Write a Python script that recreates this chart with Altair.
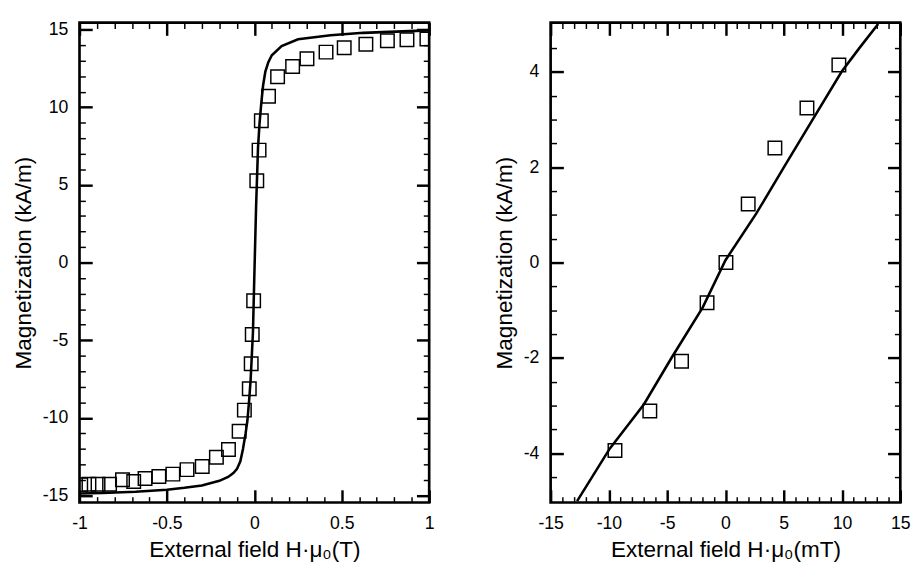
import altair as alt
import pandas as pd

# ---------------- data ----------------
left_pts_x = [-0.993, -0.946, -0.894, -0.828, -0.754, -0.690, -0.625, -0.546, -0.466, -0.385,
              -0.298, -0.217, -0.148, -0.087, -0.057, -0.029, -0.018, -0.012, -0.004, 0.014,
              0.027, 0.040, 0.081, 0.133, 0.219, 0.301, 0.410, 0.514, 0.638, 0.761, 0.873, 0.987]
left_pts_y = [-14.30, -14.27, -14.27, -14.27, -13.98, -14.10, -13.90, -13.78, -13.62, -13.33,
              -13.13, -12.54, -12.03, -10.86, -9.50, -8.12, -6.51, -4.63, -2.46, 5.27,
              7.24, 9.13, 10.71, 11.97, 12.62, 13.12, 13.55, 13.83, 14.06, 14.28, 14.34, 14.40]

left_fit_x = [-1.0, -0.87, -0.68, -0.5, -0.4, -0.3, -0.2, -0.15, -0.12, -0.1, -0.08, -0.065,
              -0.05, -0.04, -0.03, -0.021, -0.008, 0.001, 0.01, 0.021, 0.03, 0.04, 0.05, 0.063,
              0.08, 0.1, 0.156, 0.25, 0.436, 0.623, 0.81, 1.0]
left_fit_y = [-14.87, -14.83, -14.75, -14.62, -14.5, -14.35, -14.05, -13.8, -13.55, -13.3, -12.8, -12.0,
              -11.0, -10.2, -8.9, -7.5, -4.5, -0.4, 3.6, 7.4, 9.0, 10.3, 11.4, 12.3,
              12.9, 13.35, 13.94, 14.38, 14.64, 14.79, 14.87, 14.95]

right_pts_x = [-9.48, -6.49, -3.77, -1.58, 0.04, 1.95, 4.24, 6.99, 9.73]
right_pts_y = [-3.94, -3.11, -2.07, -0.84, 0.0, 1.23, 2.40, 3.24, 4.14]

right_fit_x = [-12.73, -9.93, -6.99, -4.61, -1.95, 0.0, 2.65, 5.07, 7.49, 9.96, 11.5, 13.1]
right_fit_y = [-5.0, -3.90, -2.97, -1.99, -0.94, 0.05, 1.03, 2.02, 3.0, 4.0, 4.5, 5.0]

# axis ticks
left_x_major = [-1, -0.5, 0, 0.5, 1]
left_x_minor = [-0.9, -0.8, -0.7, -0.6, -0.4, -0.3, -0.2, -0.1, 0.1, 0.2, 0.3, 0.4, 0.6, 0.7, 0.8, 0.9]
left_y_major = [-15, -10, -5, 0, 5, 10, 15]
left_y_minor = [-14, -13, -12, -11, -9, -8, -7, -6, -4, -3, -2, -1, 1, 2, 3, 4, 6, 7, 8, 9, 11, 12, 13, 14]

right_x_major = [-15, -10, -5, 0, 5, 10, 15]
right_x_minor = [-14, -13, -12, -11, -9, -8, -7, -6, -4, -3, -2, -1, 1, 2, 3, 4, 6, 7, 8, 9, 11, 12, 13, 14]
right_y_major = [-4, -2, 0, 2, 4]
right_y_minor = [-4.5, -3.5, -3, -2.5, -1.5, -1, -0.5, 0.5, 1, 1.5, 2.5, 3, 3.5, 4.5]

W, H = 357, 490
FONT = "Liberation Sans"
MAJ, MIN = 13, 6


def tick_axis(orient, offset, values, size, width):
    return alt.Axis(orient=orient, offset=offset, values=values, labels=False, domain=False,
                    grid=False, ticks=True, tickSize=size, tickWidth=width, tickColor="black",
                    title=None)


def label_axis(orient, values, title, tpad):
    return alt.Axis(orient=orient, values=values, title=title, labelExpr="toString(datum.value)",
                    ticks=False, tickSize=0, domain=False, grid=False, labelPadding=12,
                    labelFontSize=18, labelFont=FONT, labelColor="black", labelFlush=False,
                    titleFontSize=23, titleFont=FONT, titleFontWeight="normal",
                    titleColor="black", titlePadding=tpad)


def panel(px, py, fx, fy, xdom, ydom, xmaj, xmin, ymaj, ymin, xtitle, ytitle):
    pts = pd.DataFrame({"x": px, "y": py})
    fit = pd.DataFrame({"x": fx, "y": fy})
    xs = alt.Scale(domain=xdom, nice=False, zero=False)
    ys = alt.Scale(domain=ydom, nice=False, zero=False)

    points = alt.Chart(pts).mark_point(shape="square", filled=False, size=190, color="black",
                                       strokeWidth=1.5, opacity=1, clip=True).encode(
        x=alt.X("x:Q", scale=xs, axis=label_axis("bottom", xmaj, xtitle, 7)),
        y=alt.Y("y:Q", scale=ys, axis=label_axis("left", ymaj, ytitle, 7)),
    )

    def ax_layer(xa, ya):
        return alt.Chart(pts).mark_point(opacity=0).encode(
            x=alt.X("x:Q", scale=xs, axis=xa),
            y=alt.Y("y:Q", scale=ys, axis=ya),
        )

    l1 = ax_layer(tick_axis("top", -H, xmaj, MAJ, 2.5), tick_axis("right", -W, ymaj, MAJ, 2.5))
    l2 = ax_layer(tick_axis("bottom", -H, xmaj, MAJ, 2.5), tick_axis("left", -W, ymaj, MAJ, 2.5))
    l3 = ax_layer(tick_axis("top", -H, xmin, MIN, 1.5), tick_axis("right", -W, ymin, MIN, 1.5))

    line = alt.Chart(fit).mark_line(color="black", strokeWidth=2.6).encode(
        x=alt.X("x:Q", scale=xs, axis=tick_axis("bottom", -H, xmin, MIN, 1.5)),
        y=alt.Y("y:Q", scale=ys, axis=tick_axis("left", -W, ymin, MIN, 1.5)),
    )

    return alt.layer(points, l1, l2, l3, line).resolve_axis(
        x="independent", y="independent").properties(width=W, height=H)


left = panel(left_pts_x, left_pts_y, left_fit_x, left_fit_y, [-1, 1], [-15.45, 15.45],
             left_x_major, left_x_minor, left_y_major, left_y_minor,
             "External field H·μ₀(T)", "Magnetization (kA/m)")
right = panel(right_pts_x, right_pts_y, right_fit_x, right_fit_y, [-15, 15], [-5.03, 5.03],
              right_x_major, right_x_minor, right_y_major, right_y_minor,
              "External field H·μ₀(mT)", "Magnetization (kA/m)")

chart = alt.hconcat(left, right, spacing=57).configure_view(stroke="black", strokeWidth=2.7)
chart = chart.properties(padding=3)

chart.save("out.html", embed_options={"renderer": "svg", "actions": False})
